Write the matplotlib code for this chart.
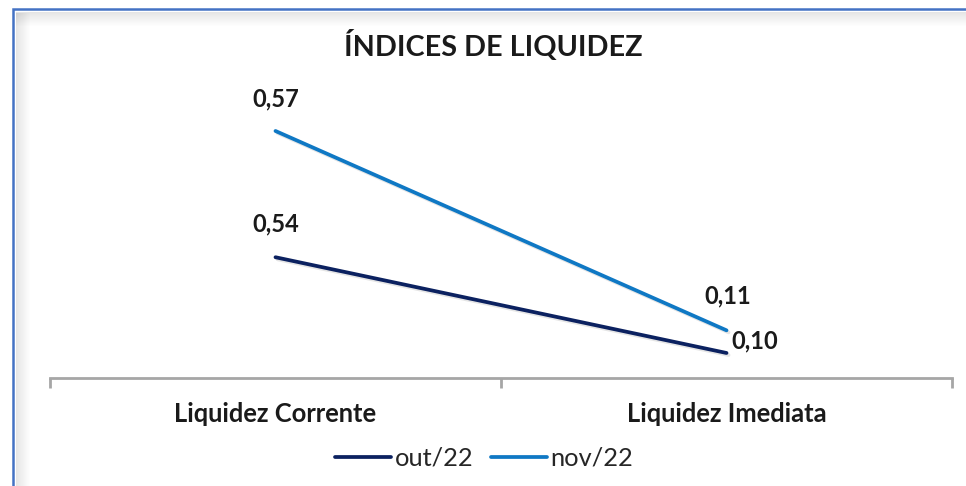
import matplotlib.pyplot as plt
from matplotlib.patches import Rectangle
from matplotlib.lines import Line2D
import matplotlib.patheffects as pe

plt.rcParams['font.family'] = ['Lato', 'DejaVu Sans']

categories = ['Liquidez Corrente', 'Liquidez Imediata']
out22 = [0.54, 0.10]
nov22 = [0.57, 0.11]
series_names = ['out/22', 'nov/22']
title = 'ÍNDICES DE LIQUIDEZ'

OUT_COLOR = '#0b2160'
NOV_COLOR = '#0f78c4'
AXIS_GREY = '#a6a6a6'
TEXT = '#1a1a1a'


def fmt(v):
    return f'{v:.2f}'.replace('.', ',')


def draw_frame(fig):
    # blue outer border (right/bottom run off the picture)
    fig.patches.append(Rectangle((13 / 966, -0.1), 1.2, (1 - 9 / 486) + 0.1,
                                 transform=fig.transFigure, fill=False,
                                 edgecolor='#4472c4', linewidth=1.8, zorder=0))
    # soft inner shadow along top and left
    for i in range(14):
        a = 0.10 * (1 - i / 14)
        fig.patches.append(Rectangle((16 / 966, 1 - (13 + i) / 486), 1, 1 / 486,
                                     transform=fig.transFigure, color='black',
                                     alpha=a, linewidth=0, zorder=0))
        fig.patches.append(Rectangle(((16 + i) / 966, 0), 1 / 966, 1 - 13 / 486,
                                     transform=fig.transFigure, color='black',
                                     alpha=a, linewidth=0, zorder=0))


def plot_chart():
    fig = plt.figure(figsize=(9.66, 4.86), dpi=100)
    draw_frame(fig)

    ax = fig.add_axes([50 / 966, 1 - 378 / 486, 902 / 966, 260 / 486])
    ax2 = ax.twinx()  # out/22 sits on a secondary axis
    x = [0, 1]

    shadow = [pe.SimpleLineShadow(offset=(1.5, -1.5), shadow_color='grey', alpha=0.2),
              pe.Normal()]
    ax2.plot(x, out22, color=OUT_COLOR, linewidth=2.7, solid_capstyle='round',
             path_effects=shadow)
    ax.plot(x, nov22, color=NOV_COLOR, linewidth=2.7, solid_capstyle='round',
            path_effects=shadow)

    ax.set_xlim(-0.5, 1.5)
    ax.set_ylim(0, 0.6)
    ax2.set_ylim(-0.015, 1.18)

    for a in (ax, ax2):
        a.patch.set_visible(False)
        for s in ('top', 'right', 'left'):
            a.spines[s].set_visible(False)
        a.set_yticks([])
    ax2.spines['bottom'].set_visible(False)
    ax.spines['bottom'].set_color(AXIS_GREY)
    ax.spines['bottom'].set_linewidth(2)

    ax.set_xticks([-0.5, 0.5, 1.5])
    ax.set_xticklabels([])
    ax.tick_params(axis='x', length=7, width=2, color=AXIS_GREY)
    for xi, cat in zip(x, categories):
        ax.text(xi, -44 / 260, cat, transform=ax.get_xaxis_transform(),
                ha='center', va='baseline', fontsize=18.4, fontweight='bold', color=TEXT)

    lab = dict(fontsize=17, fontweight='bold', color=TEXT,
               textcoords='offset pixels', va='baseline')
    ax2.annotate(fmt(out22[0]), (x[0], out22[0]), xytext=(0, 26), ha='center', **lab)
    ax2.annotate(fmt(out22[1]), (x[1], out22[1]), xytext=(5, 5), ha='left', **lab)
    ax.annotate(fmt(nov22[0]), (x[0], nov22[0]), xytext=(0, 25), ha='center', **lab)
    ax.annotate(fmt(nov22[1]), (x[1], nov22[1]), xytext=(1, 27), ha='center', **lab)

    fig.text(493 / 966, 1 - 56 / 486, title, ha='center', va='baseline',
             fontsize=20.7, fontweight='bold', color=TEXT)

    handles = [Line2D([], [], color=OUT_COLOR, linewidth=2.7, solid_capstyle='round'),
               Line2D([], [], color=NOV_COLOR, linewidth=2.7, solid_capstyle='round')]
    fig.legend(handles, series_names, loc='center', bbox_to_anchor=(484 / 966, 1 - 458 / 486),
               ncol=2, frameon=False, fontsize=18.3, handlelength=2.2,
               handletextpad=0.12, columnspacing=0.7, labelcolor='#262626')

    fig.savefig('out.png', dpi=100)


def main():
    plot_chart()


if __name__ == "__main__":
    main()
